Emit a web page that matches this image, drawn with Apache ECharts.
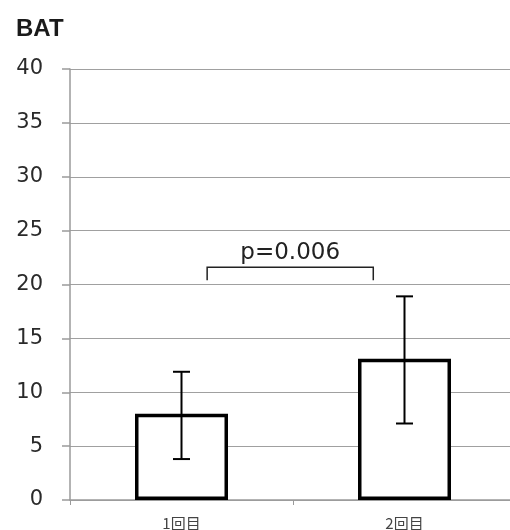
<!DOCTYPE html>
<html>
<head>
<meta charset="utf-8">
<script src="https://cdn.jsdelivr.net/npm/echarts@6/dist/echarts.min.js"></script>
<style>
  html, body { margin: 0; padding: 0; background: #fff; }
  #chart { width: 510px; height: 530px; }
</style>
</head>
<body>
<div id="chart"></div>
<script>
var categories = ['1回目', '2回目'];
var means = [8.0, 13.1];
var errLow = [3.8, 7.1];
var errHigh = [11.9, 18.9];
// bracket: [fromIndex, toIndex, topValue, legValue, label]
var bracket = [[0, 1, 21.6, 20.4, 'p=0.006']];

var chart = echarts.init(document.getElementById('chart'));

var errData = categories.map(function (c, i) { return [i, errLow[i], errHigh[i]]; });

var option = {
    animation: false,
    title: {
        text: 'BAT',
        left: 11,
        top: 12,
        textStyle: { fontFamily: 'Liberation Sans', fontSize: 24, fontWeight: 'bold', color: '#1a1a1a' }
    },
    grid: { left: 70, top: 69, width: 446, bottom: 30, outerBoundsMode: 'none', containLabel: false },
    xAxis: {
        type: 'category',
        data: categories,
        axisLine: { lineStyle: { color: '#9a9a9a', width: 1.5 } },
        axisTick: { show: true, length: 5, lineStyle: { color: '#9a9a9a' } },
        axisLabel: { fontFamily: 'Noto Sans CJK JP', fontSize: 15, color: '#444', margin: 16 }
    },
    yAxis: {
        type: 'value',
        min: 0,
        max: 40,
        interval: 5,
        axisLine: { show: true, lineStyle: { color: '#9a9a9a', width: 1.5 } },
        axisTick: { show: true, inside: false, length: 8, lineStyle: { color: '#9a9a9a', width: 1.5 } },
        splitLine: { lineStyle: { color: '#a0a0a0', width: 1.2 } },
        axisLabel: { fontFamily: 'DejaVu Sans', fontSize: 21, color: '#2a2a2a', margin: 27 }
    },
    series: [
        {
            type: 'bar',
            data: means,
            barWidth: 93,
            itemStyle: { color: '#fff', borderColor: '#000', borderWidth: 3.5 },
            z: 2
        },
        {
            type: 'custom',
            data: errData,
            z: 3,
            renderItem: function (params, api) {
                var lo = api.coord([api.value(0), api.value(1)]);
                var hi = api.coord([api.value(0), api.value(2)]);
                var cap = 8.5;
                var st = { stroke: '#000', lineWidth: 2 };
                return {
                    type: 'group',
                    children: [
                        { type: 'line', shape: { x1: lo[0], y1: lo[1], x2: hi[0], y2: hi[1] }, style: st },
                        { type: 'line', shape: { x1: lo[0] - cap, y1: lo[1], x2: lo[0] + cap, y2: lo[1] }, style: st },
                        { type: 'line', shape: { x1: hi[0] - cap, y1: hi[1], x2: hi[0] + cap, y2: hi[1] }, style: st }
                    ]
                };
            }
        },
        {
            type: 'custom',
            data: bracket,
            z: 3,
            renderItem: function (params, api) {
                var band = api.size([1, 0])[0];
                var a = api.coord([api.value(0), api.value(2)]);
                var b = api.coord([api.value(1), api.value(2)]);
                var leg = api.coord([api.value(0), api.value(3)]);
                var x1 = a[0] + band * 0.115;
                var x2 = b[0] - band * 0.14;
                var st = { stroke: '#222', lineWidth: 1.5, fill: null };
                return {
                    type: 'group',
                    children: [
                        { type: 'polyline', shape: { points: [[x1, leg[1]], [x1, a[1]], [x2, a[1]], [x2, leg[1]]] }, style: st },
                        {
                            type: 'text',
                            style: {
                                text: bracket[params.dataIndex][4],
                                x: (x1 + x2) / 2,
                                y: a[1] - 3,
                                align: 'center',
                                verticalAlign: 'bottom',
                                fontFamily: 'DejaVu Sans',
                                fontSize: 23,
                                fill: '#222'
                            }
                        }
                    ]
                };
            }
        }
    ]
};

chart.setOption(option);
</script>
</body>
</html>
